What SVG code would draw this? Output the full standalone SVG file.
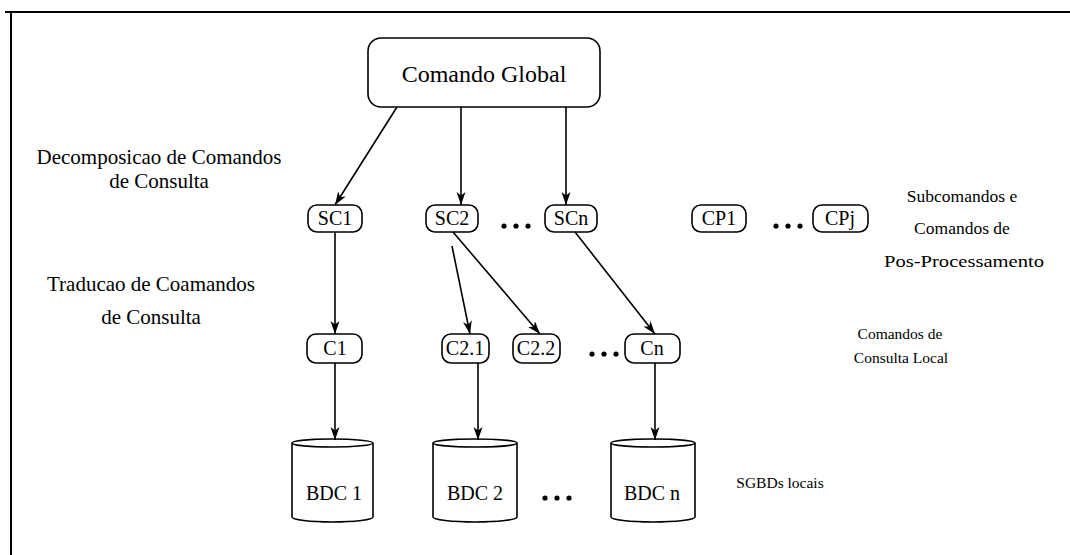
<svg xmlns="http://www.w3.org/2000/svg" width="1070" height="555" viewBox="0 0 1070 555">
<defs>
<marker id="arr" markerWidth="14" markerHeight="10" refX="13" refY="4.5" orient="auto" markerUnits="userSpaceOnUse">
<path d="M0,0 L13,4.5 L0,9 L3.5,4.5 Z" fill="#000"/>
</marker>
<style>
.box{fill:#fff;stroke:#000;stroke-width:1.6}
.n{font-size:20px}
.lbl{font-size:21px}
.rl{font-size:17.5px}
.sl{font-size:15.5px}
.con{stroke:#000;stroke-width:1.6;fill:none;marker-end:url(#arr)}
.dot{fill:#000}
</style>
</defs>
<rect width="1070" height="555" fill="#fff"/>
<g id="frame" stroke="#000" stroke-width="2">
<line x1="5" y1="12" x2="1070" y2="12"/>
<line x1="11" y1="12" x2="11" y2="555"/>
</g>
<g font-family="'Liberation Serif', 'Times New Roman', Times, serif" text-anchor="middle" fill="#000">
<g id="labels">
<text class="lbl" x="159" y="164">Decomposicao de Comandos</text>
<text class="lbl" x="159" y="188">de Consulta</text>
<text class="lbl" x="151" y="291">Traducao de Coamandos</text>
<text class="lbl" x="151" y="324">de Consulta</text>
<text class="rl" x="962" y="202">Subcomandos e</text>
<text class="rl" x="962" y="234">Comandos de</text>
<text class="rl" x="964" y="267" textLength="160" lengthAdjust="spacingAndGlyphs">Pos-Processamento</text>
<text class="sl" x="900" y="339">Comandos de</text>
<text class="sl" x="901" y="363">Consulta Local</text>
<text class="sl" x="780" y="488">SGBDs locais</text>
</g>
<g id="n-global"><rect class="box" x="368" y="38" width="232" height="69" rx="13"/><text x="484" y="82" font-size="24">Comando Global</text></g>
<g id="n-sc1"><rect class="box" x="308" y="205" width="54" height="27" rx="9"/><text class="n" x="335" y="225">SC1</text></g>
<g id="n-sc2"><rect class="box" x="426" y="205" width="52" height="27" rx="9"/><text class="n" x="452" y="225">SC2</text></g>
<g id="n-scn"><rect class="box" x="545" y="205" width="52" height="27" rx="9"/><text class="n" x="571" y="225">SCn</text></g>
<g id="n-cp1"><rect class="box" x="692" y="205" width="54" height="27" rx="9"/><text class="n" x="719" y="225">CP1</text></g>
<g id="n-cpj"><rect class="box" x="813" y="205" width="55" height="27" rx="9"/><text class="n" x="840" y="225">CPj</text></g>
<g id="n-c1"><rect class="box" x="307" y="334" width="55" height="29" rx="9"/><text class="n" x="335" y="355">C1</text></g>
<g id="n-c21"><rect class="box" x="442" y="334" width="47" height="29" rx="9"/><text class="n" x="465" y="355">C2.1</text></g>
<g id="n-c22"><rect class="box" x="513" y="334" width="47" height="29" rx="9"/><text class="n" x="536" y="355">C2.2</text></g>
<g id="n-cn"><rect class="box" x="625" y="334" width="55" height="29" rx="9"/><text class="n" x="652" y="355">Cn</text></g>
<g id="n-bdc1"><path class="box" d="M292,443 A40.5,4 0 0 1 373,443 L373,517 A40.5,5 0 0 1 292,517 Z"/><path d="M292,443 A40.5,4 0 0 0 373,443" fill="none" stroke="#000" stroke-width="1.6"/><text class="n" x="334" y="500">BDC 1</text></g>
<g id="n-bdc2"><path class="box" d="M433,443 A42,4 0 0 1 517,443 L517,517 A42,5 0 0 1 433,517 Z"/><path d="M433,443 A42,4 0 0 0 517,443" fill="none" stroke="#000" stroke-width="1.6"/><text class="n" x="475" y="500">BDC 2</text></g>
<g id="n-bdcn"><path class="box" d="M611,443 A42,4 0 0 1 695,443 L695,517 A42,5 0 0 1 611,517 Z"/><path d="M611,443 A42,4 0 0 0 695,443" fill="none" stroke="#000" stroke-width="1.6"/><text class="n" x="652" y="500">BDC n</text></g>
</g>
<g id="ellipses">
<circle class="dot" cx="504" cy="226" r="2.6"/><circle class="dot" cx="516" cy="226" r="2.6"/><circle class="dot" cx="528" cy="226" r="2.6"/>
<circle class="dot" cx="776" cy="226" r="2.6"/><circle class="dot" cx="788" cy="226" r="2.6"/><circle class="dot" cx="800" cy="226" r="2.6"/>
<circle class="dot" cx="592" cy="354" r="2.6"/><circle class="dot" cx="604" cy="354" r="2.6"/><circle class="dot" cx="616" cy="354" r="2.6"/>
<circle class="dot" cx="545" cy="498" r="2.6"/><circle class="dot" cx="557" cy="498" r="2.6"/><circle class="dot" cx="569" cy="498" r="2.6"/>
</g>
<g id="connectors">
<line class="con" x1="397" y1="107" x2="335" y2="205"/>
<line class="con" x1="461" y1="107" x2="461" y2="205"/>
<line class="con" x1="566" y1="107" x2="566" y2="205"/>
<line class="con" x1="335" y1="232" x2="335" y2="334"/>
<line class="con" x1="452" y1="246" x2="470" y2="334"/>
<line class="con" x1="453" y1="232" x2="540" y2="334"/>
<line class="con" x1="575" y1="232" x2="655" y2="334"/>
<line class="con" x1="335" y1="363" x2="335" y2="440"/>
<line class="con" x1="478" y1="363" x2="478" y2="440"/>
<line class="con" x1="655" y1="363" x2="655" y2="440"/>
</g>
</svg>
